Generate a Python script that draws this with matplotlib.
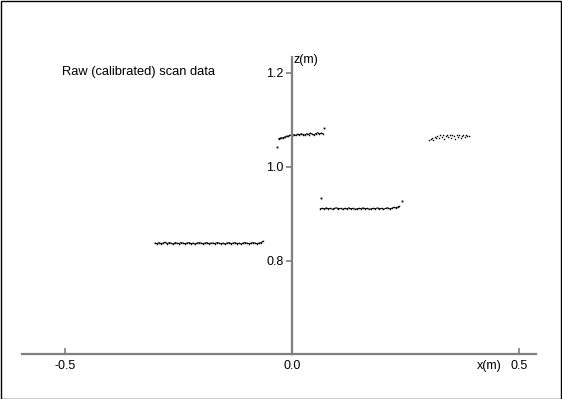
import matplotlib
matplotlib.use("Agg")
import matplotlib.pyplot as plt
from matplotlib.patches import Rectangle

plt.rcParams['font.family'] = ['Liberation Sans', 'DejaVu Sans']

# ---- data ----
x_floor = [-0.302, -0.298, -0.293, -0.289, -0.284, -0.280, -0.276, -0.271, -0.267, -0.262,
           -0.258, -0.254, -0.249, -0.245, -0.240, -0.236, -0.232, -0.227, -0.223, -0.218,
           -0.214, -0.210, -0.205, -0.201, -0.196, -0.192, -0.188, -0.183, -0.179, -0.174,
           -0.170, -0.166, -0.161, -0.157, -0.152, -0.148, -0.144, -0.139, -0.135, -0.130,
           -0.126, -0.122, -0.117, -0.113, -0.108, -0.104, -0.100, -0.095, -0.091, -0.086,
           -0.082, -0.078, -0.073, -0.069, -0.064]
z_floor = [0.838, 0.837, 0.839, 0.837, 0.838, 0.840, 0.837, 0.839, 0.838, 0.836,
           0.839, 0.838, 0.837, 0.839, 0.838, 0.837, 0.838, 0.839, 0.837, 0.838,
           0.836, 0.838, 0.839, 0.838, 0.837, 0.838, 0.839, 0.837, 0.838, 0.838,
           0.837, 0.839, 0.838, 0.837, 0.838, 0.836, 0.838, 0.839, 0.837, 0.838,
           0.839, 0.837, 0.838, 0.836, 0.838, 0.839, 0.838, 0.837, 0.838, 0.839,
           0.838, 0.837, 0.838, 0.839, 0.842]

x_step1_out = [-0.033]
z_step1_out = [1.043]
x_step1 = [-0.030, -0.027, -0.024, -0.021, -0.018, -0.015, -0.012, -0.009, -0.006,
           -0.003, 0.000, 0.004, 0.008, 0.012, 0.016, 0.020, 0.024, 0.028, 0.032,
           0.036, 0.040, 0.044, 0.048, 0.052, 0.056, 0.060, 0.064, 0.068]
z_step1 = [1.060, 1.061, 1.062, 1.062, 1.063, 1.064, 1.066, 1.065, 1.067,
           1.068, 1.066, 1.069, 1.067, 1.070, 1.068, 1.071, 1.069, 1.068, 1.071,
           1.069, 1.072, 1.070, 1.068, 1.071, 1.073, 1.070, 1.072, 1.071]
x_step1_top = [0.071]
z_step1_top = [1.083]

x_step2_out = [0.064, 0.242]
z_step2_out = [0.934, 0.928]
x_step2 = [0.062, 0.066, 0.071, 0.075, 0.080, 0.084, 0.089, 0.093, 0.098,
           0.102, 0.107, 0.111, 0.116, 0.120, 0.125, 0.129, 0.134, 0.138, 0.143,
           0.147, 0.152, 0.156, 0.161, 0.165, 0.170, 0.174, 0.179, 0.183, 0.188,
           0.192, 0.197, 0.201, 0.206, 0.210, 0.215, 0.219, 0.224, 0.228, 0.233,
           0.236]
z_step2 = [0.911, 0.912, 0.911, 0.913, 0.911, 0.912, 0.910, 0.912, 0.913,
           0.911, 0.912, 0.910, 0.912, 0.911, 0.913, 0.911, 0.912, 0.910, 0.911,
           0.912, 0.911, 0.913, 0.911, 0.912, 0.910, 0.911, 0.912, 0.911, 0.913,
           0.911, 0.912, 0.910, 0.912, 0.913, 0.911, 0.912, 0.914, 0.913, 0.915,
           0.916]

x_step3 = [0.302, 0.305, 0.308, 0.311, 0.314, 0.317, 0.320, 0.323, 0.326, 0.329,
           0.332, 0.335, 0.338, 0.341, 0.344, 0.347, 0.350, 0.353, 0.356, 0.359,
           0.362, 0.365, 0.368, 0.371, 0.374, 0.377, 0.380, 0.383, 0.386, 0.389]
z_step3 = [1.057, 1.059, 1.061, 1.058, 1.063, 1.061, 1.066, 1.062, 1.067, 1.064,
           1.068, 1.060, 1.066, 1.069, 1.063, 1.067, 1.061, 1.068, 1.065, 1.060,
           1.067, 1.063, 1.069, 1.062, 1.066, 1.068, 1.063, 1.067, 1.065, 1.066]

x_ticks = [-0.5, 0.0, 0.5]
x_tick_labels = ['-0.5', '0.0', '0.5']
z_ticks = [0.8, 1.0, 1.2]
z_tick_labels = ['0.8', '1.0', '1.2']

title_text = 'Raw (calibrated) scan data'

# ---- figure ----
fig = plt.figure(figsize=(5.62, 3.99), dpi=100)
fig.patches.append(Rectangle((0.001, 0.001), 0.997, 0.996, transform=fig.transFigure,
                             fill=False, edgecolor='black', linewidth=1.0))

ax = fig.add_axes([22 / 562, 1 - 354 / 399, 514 / 562, (354 - 57) / 399])
ax.set_xlim(-0.595, 0.537)
ax.set_ylim(0.602, 1.234)
ax.patch.set_alpha(0)

# dense scan runs: draw as connected points
for xs, zs in [(x_floor, z_floor), (x_step1, z_step1), (x_step2, z_step2)]:
    ax.plot(xs, zs, linestyle='-', linewidth=0.7, marker='s', markersize=1.0,
            markeredgewidth=0, color='black')
# isolated / sparse points
for xs, zs in [(x_step1_out, z_step1_out), (x_step1_top, z_step1_top),
               (x_step2_out, z_step2_out)]:
    ax.plot(xs, zs, linestyle='none', marker='s', markersize=1.3,
            markeredgewidth=0, color='black')
ax.plot(x_step3, z_step3, linestyle='none', marker='s', markersize=1.0,
        markeredgewidth=0, color='black')

spine_color = '#7f7f7f'
ax.spines['top'].set_visible(False)
ax.spines['right'].set_visible(False)
ax.spines['left'].set_position(('data', 0.0))
ax.spines['left'].set_color(spine_color)
ax.spines['left'].set_linewidth(1.6)
ax.spines['bottom'].set_color(spine_color)
ax.spines['bottom'].set_linewidth(1.6)

ax.set_xticks(x_ticks)
ax.set_xticklabels(x_tick_labels)
ax.set_yticks(z_ticks)
ax.set_yticklabels(z_tick_labels)
ax.tick_params(axis='x', direction='in', length=4, width=1.2, color=spine_color,
               labelsize=9, pad=4, labelcolor='black')
ax.tick_params(axis='y', direction='out', length=4, width=1.2, color=spine_color,
               labelsize=9, pad=2, labelcolor='black')

ax.annotate('x(m)', xy=(0.435, 0.602), xytext=(0, -4.5), textcoords='offset points',
            ha='center', va='top', fontsize=9)
ax.text(0.002, 1.228, 'z(m)', ha='left', va='center', fontsize=9)
ax.text(-0.507, 1.202, title_text, ha='left', va='center', fontsize=9.3)

fig.savefig('out.png', dpi=100)
